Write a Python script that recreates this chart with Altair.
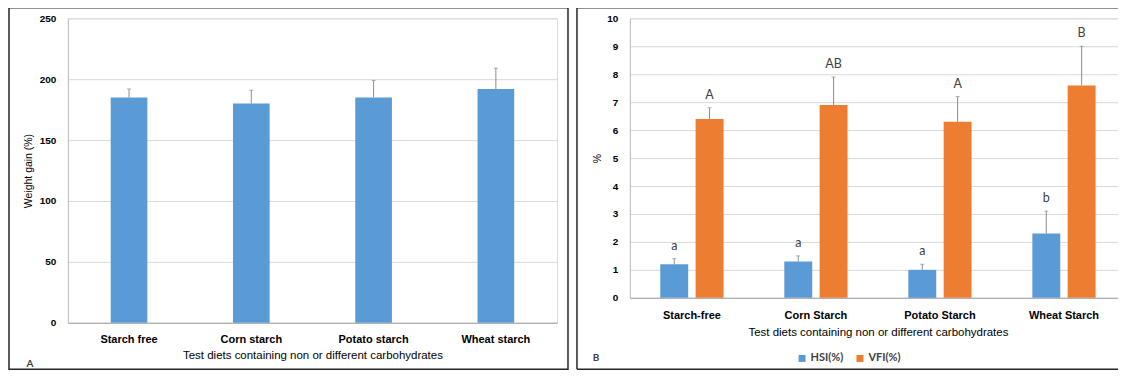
import altair as alt
import pandas as pd

# ---------------- data ----------------
diets_a = ["Starch free", "Corn starch", "Potato starch", "Wheat starch"]
weight_gain = [185, 180, 185, 192]
weight_gain_sd = [7, 11, 14, 17]

diets_b = ["Starch-free", "Corn Starch", "Potato Starch", "Wheat Starch"]
series = ["HSI(%)", "VFI(%)"]
hsi = [1.2, 1.3, 1.0, 2.3]
hsi_sd = [0.2, 0.2, 0.2, 0.8]
hsi_letters = ["a", "a", "a", "b"]
vfi = [6.4, 6.9, 6.3, 7.6]
vfi_sd = [0.4, 1.0, 0.9, 1.4]
vfi_letters = ["A", "AB", "A", "B"]

wg_ticks = [0, 50, 100, 150, 200, 250]
pct_ticks = [0, 1, 2, 3, 4, 5, 6, 7, 8, 9, 10]

x_title = "Test diets containing non or different carbohydrates"

# ---------------- style ----------------
FONT = "Lato"
TXT = "#404040"
BLUE = "#5B9BD5"
ORANGE = "#ED7D31"
ERR = "#8C8C8C"
FRAME = "#262626"
GRID = "#D9D9D9"
DOMAIN = "#A6A6A6"

df_a = pd.DataFrame({"diet": diets_a, "mean": weight_gain, "sd": weight_gain_sd})
df_a["upper"] = df_a["mean"] + df_a["sd"]

rows = []
for d, h, hs, hl, v, vs, vl in zip(diets_b, hsi, hsi_sd, hsi_letters, vfi, vfi_sd, vfi_letters):
    rows.append({"diet": d, "series": series[0], "mean": h, "upper": h + hs, "letter": hl})
    rows.append({"diet": d, "series": series[1], "mean": v, "upper": v + vs, "letter": vl})
df_b = pd.DataFrame(rows)

one = pd.DataFrame({"k": [0]})


def x_axis(pad, tpad):
    return alt.Axis(title=x_title, labelAngle=0, ticks=False, tickSize=0,
                    labelPadding=pad, titlePadding=tpad, grid=False,
                    domainColor=DOMAIN, labelFontWeight="bold", labelFontSize=11,
                    titleFontWeight="normal", titleFontSize=11.5)


def y_axis(values, title, tpad):
    return alt.Axis(values=values, title=title, ticks=False, tickSize=0,
                    labelPadding=12, titlePadding=tpad, gridColor=GRID, domainColor="#BFBFBF",
                    labelFontWeight="bold", labelFontSize=10, titleFontSize=10.5,
                    titleFontWeight="normal", labelOverlap=False)


# ---------------- panel A ----------------
WA, HA = 490, 305
sa = alt.Scale(domain=[0, 250], nice=False)
axa = y_axis(wg_ticks, "Weight gain (%)", 6)
xa = alt.X("diet:N", sort=diets_a,
           scale=alt.Scale(paddingInner=0.7, paddingOuter=0.35), axis=x_axis(11, 5))

bars_a = alt.Chart(df_a).mark_bar(color=BLUE).encode(
    x=xa, y=alt.Y("mean:Q", scale=sa, axis=axa))
err_a = alt.Chart(df_a).mark_rule(color=ERR, strokeWidth=1).encode(
    x=xa, y=alt.Y("mean:Q", scale=sa, axis=axa), y2="upper:Q")
cap_a = alt.Chart(df_a).mark_tick(color=ERR, size=4, thickness=1).encode(
    x=xa, y=alt.Y("upper:Q", scale=sa, axis=axa))
frame_a = alt.Chart(one).mark_rect(fillOpacity=0, stroke=FRAME, strokeWidth=1.5).encode(
    x=alt.value(-59), x2=alt.value(WA + 11), y=alt.value(-10.5), y2=alt.value(HA + 46.5))
tag_a = alt.Chart(one).mark_text(text="A", font=FONT, fontSize=10, fontWeight="bold",
                                  color=TXT).encode(x=alt.value(-38), y=alt.value(HA + 41))

panel_a = alt.layer(frame_a, bars_a, err_a, cap_a, tag_a).properties(width=WA, height=HA)

# ---------------- panel B ----------------
WB, HB = 497, 280
sb = alt.Scale(domain=[0, 10], nice=False)
axb = y_axis(pct_ticks, "%", 4)
xb = alt.X("diet:N", sort=diets_b,
           scale=alt.Scale(paddingInner=0.49, paddingOuter=0.245), axis=x_axis(12, 6))
xo = alt.XOffset("series:N", sort=series, scale=alt.Scale(paddingInner=0.21, paddingOuter=0))
color = alt.Color("series:N", sort=series,
                  scale=alt.Scale(domain=series, range=[BLUE, ORANGE]),
                  legend=alt.Legend(orient="none", legendX=167, legendY=335,
                                    direction="horizontal", title=None, symbolType="square",
                                    symbolSize=49, symbolStrokeWidth=0, labelFont=FONT,
                                    labelFontSize=11, labelFontWeight="bold", labelColor=TXT,
                                    columnPadding=11, labelOffset=3))

bars_b = alt.Chart(df_b).mark_bar().encode(
    x=xb, xOffset=xo, y=alt.Y("mean:Q", scale=sb, axis=axb), color=color)
err_b = alt.Chart(df_b).mark_rule(color=ERR, strokeWidth=1).encode(
    x=xb, xOffset=xo, y=alt.Y("mean:Q", scale=sb, axis=axb), y2="upper:Q")
cap_b = alt.Chart(df_b).mark_tick(color=ERR, size=4, thickness=1).encode(
    x=xb, xOffset=xo, y=alt.Y("upper:Q", scale=sb, axis=axb))
letters_b = alt.Chart(df_b).mark_text(baseline="bottom", dy=-6, font=FONT, fontSize=12.5,
                                      color=TXT).encode(
    x=xb, xOffset=xo, y=alt.Y("upper:Q", scale=sb, axis=axb), text="letter:N")

frame_top = alt.Chart(one).mark_rule(color=FRAME, strokeWidth=1.5).encode(
    x=alt.value(-53), x2=alt.value(WB), y=alt.value(-10.5))
frame_bot = alt.Chart(one).mark_rule(color=FRAME, strokeWidth=1.5).encode(
    x=alt.value(-53), x2=alt.value(WB), y=alt.value(HB + 71.5))
frame_left = alt.Chart(one).mark_rule(color=FRAME, strokeWidth=1.5).encode(
    x=alt.value(-53), y=alt.value(-10.5), y2=alt.value(HB + 71.5))
tag_b = alt.Chart(one).mark_text(text="B", font=FONT, fontSize=10, fontWeight="bold",
                                  color=TXT).encode(x=alt.value(-34), y=alt.value(HB + 60))

panel_b = alt.layer(frame_top, frame_bot, frame_left, bars_b, err_b, cap_b, letters_b,
                    tag_b).properties(width=WB, height=HB)

chart = (
    alt.hconcat(panel_a, panel_b, spacing=5)
    .resolve_scale(x="independent", y="independent", color="independent")
    .properties(padding={"left": -1, "top": -2, "right": -10, "bottom": 0})
    .configure_view(stroke=None)
    .configure_axis(labelFont=FONT, titleFont=FONT, labelColor=TXT, titleColor=TXT)
    .configure(background="white")
)

chart.save("out.html", embed_options={"renderer": "svg", "actions": False})
